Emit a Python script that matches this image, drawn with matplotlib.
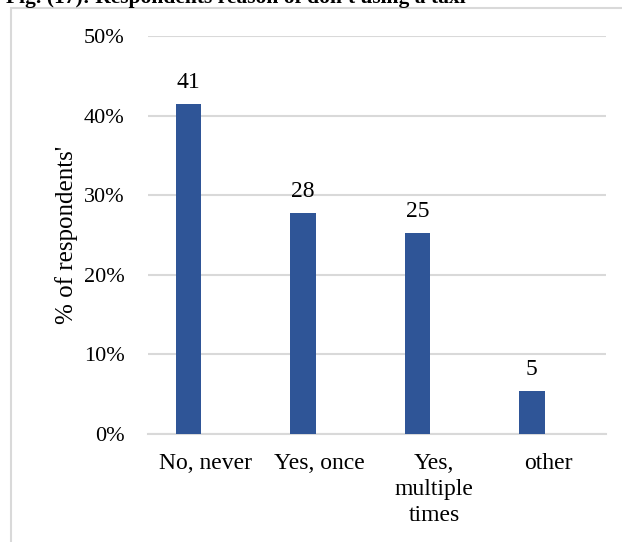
import matplotlib
matplotlib.use('Agg')
import matplotlib.pyplot as plt
from matplotlib.patches import Rectangle
from matplotlib.ticker import FuncFormatter

categories = ['No, never', 'Yes, once', 'Yes,\nmultiple\ntimes', 'other']
values = [41.4, 27.8, 25.2, 5.4]
yticks = [0, 10, 20, 30, 40, 50]

plt.rcParams['font.family'] = ['Liberation Serif', 'DejaVu Serif']

fig = plt.figure(figsize=(6.22, 5.42), dpi=100)
ax = fig.add_axes([148 / 622, 1 - 434 / 542, 458 / 622, 398 / 542])

# outer chart frame
fig.patches.append(Rectangle((11 / 622, -0.05), 1.0, (1 - 8 / 542) + 0.05,
                             transform=fig.transFigure, fill=False,
                             edgecolor='#d9d9d9', linewidth=1.5))

# caption line running off the top edge
fig.text(6 / 622, 1 - 3 / 542, "Fig. (17): Respondents reason of don't using a taxi",
         fontsize=15.5, fontweight='bold', ha='left', va='baseline')

x = range(len(categories))
shift = -0.148
bars = ax.bar([i + shift for i in x], values, width=0.223, color='#2F5597', zorder=3)
for b, v in zip(bars, values):
    ax.annotate(f'{v:.0f}', (b.get_x() + b.get_width() / 2, v),
                xytext=(0, 11.5), textcoords='offset points',
                ha='center', va='baseline', fontsize=17)

ax.set_xlim(-0.5, len(categories) - 0.5)
ax.set_ylim(0, 50)
ax.set_yticks(yticks)
ax.yaxis.set_major_formatter(FuncFormatter(lambda v, _: f'{v:.0f}%'))
ax.set_xticks(list(x))
ax.set_xticklabels(categories, linespacing=1.3)
ax.tick_params(axis='both', length=0)
ax.tick_params(axis='y', pad=17, labelsize=16)
ax.tick_params(axis='x', pad=14, labelsize=17)
ax.grid(axis='y', color='#d9d9d9', linewidth=1.5, zorder=0)
for s in ['top', 'right', 'left']:
    ax.spines[s].set_visible(False)
ax.spines['bottom'].set_color('#d9d9d9')
ax.spines['bottom'].set_linewidth(1.5)
ax.set_ylabel("% of respondents'", fontsize=18, labelpad=4)

fig.savefig('out.png', dpi=100)
